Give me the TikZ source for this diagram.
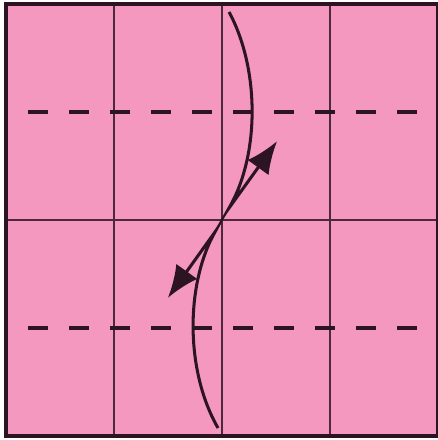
\documentclass[tikz,border=0pt]{standalone}
\usepackage{tikz}
\definecolor{paperpink}{RGB}{244,152,192}
\definecolor{inkdark}{RGB}{45,20,35}
\usetikzlibrary{arrows.meta}

\begin{document}
\begin{tikzpicture}[x=2cm, y=2cm,
				>={Latex[length=6mm,width=4.8mm]},   % Pfeilspitzen
				crease/.style={draw=inkdark!85!paperpink, line width=0.9pt},
				valley/.style={draw=inkdark, line width=1.6pt, dash pattern=on 0.37cm off 0.39cm},
				foldarrow/.style={draw=inkdark, line width=1.6pt, line join=miter, miter limit=20}]
				\useasboundingbox (-0.0556,-0.037) rectangle (4.0,4.037);
				% Papier
				\fill[paperpink] (0,0) rectangle (4,4);
				% Raster zeichnen
				\foreach \x in {1,2,3} \draw[crease] (\x,0) -- (\x,4);
				\draw[crease] (0,2) -- (4,2);
				% Talfalten
				\foreach \y in {1,3} \draw[valley] (0.204,\y) -- (3.81,\y);
				% Rand
				\draw[inkdark, line width=1.8pt] (0,0) rectangle (4,4);
				% Pfeile
				\coordinate (upTop) at (2.065,3.926);
				\coordinate (upTurn) at (2.065,2.111);
				\coordinate (upTip) at (2.51,2.73);
				\coordinate (loBot) at (1.963,0.074);
				\coordinate (loTurn) at (1.935,1.889);
				\coordinate (loTip) at (1.499,1.279);
				\draw[foldarrow,->] (upTop) .. controls (2.35,3.4) and (2.35,2.6) .. (upTurn) -- (upTip);
				\draw[foldarrow,->] (loBot) .. controls (1.66,0.6) and (1.66,1.4) .. (loTurn) -- (loTip);
			\end{tikzpicture}
\end{document}
